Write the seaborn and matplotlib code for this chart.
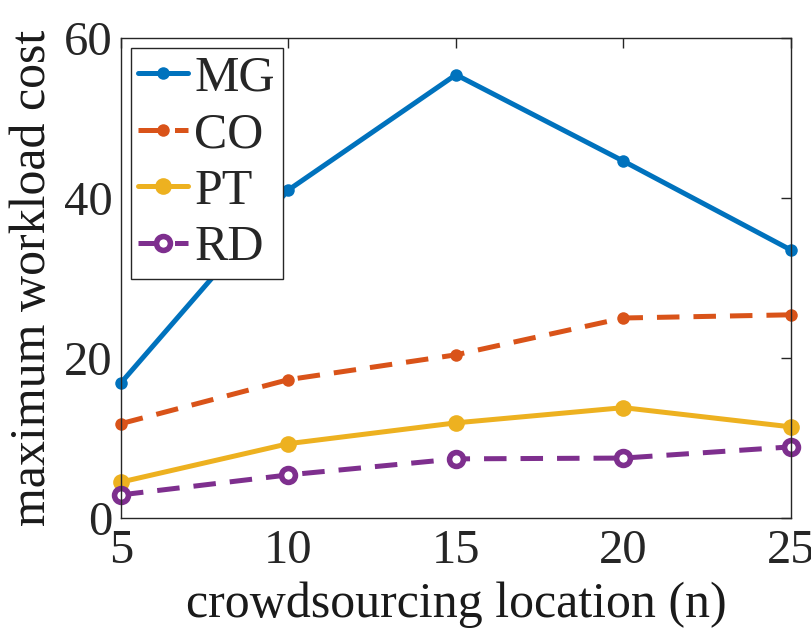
import pandas as pd
import matplotlib
matplotlib.use('Agg')
import matplotlib.pyplot as plt
import seaborn as sns

# values
n_locations = [5, 10, 15, 20, 25]
mg_cost = [16.9, 41.0, 55.4, 44.6, 33.5]
co_cost = [11.8, 17.3, 20.4, 25.0, 25.4]
pt_cost = [4.5, 9.3, 11.9, 13.8, 11.4]
rd_cost = [2.9, 5.4, 7.4, 7.5, 8.9]

x_ticks = [5, 10, 15, 20, 25]
y_ticks = [0, 20, 40, 60]

sns.set_style('white')
plt.rcParams['font.family'] = ['Liberation Serif', 'DejaVu Serif']

fig = plt.figure(figsize=(8.12, 6.42), dpi=100)
ax = fig.add_axes([0.149, 0.193, 0.825, 0.748])

df = pd.DataFrame({'n': n_locations, 'MG': mg_cost, 'CO': co_cost,
                   'PT': pt_cost, 'RD': rd_cost})

lw = 3.6
dash = [4.5, 2.8]
sns.lineplot(x='n', y='MG', data=df, ax=ax, color='#0072BD', linewidth=lw,
             marker='o', markersize=9, markeredgewidth=0, label='MG', clip_on=False)
sns.lineplot(x='n', y='CO', data=df, ax=ax, color='#D95319', linewidth=lw,
             marker='o', markersize=9, markeredgewidth=0, label='CO', clip_on=False)
ax.lines[-1].set_dashes(dash)
sns.lineplot(x='n', y='PT', data=df, ax=ax, color='#EDB120', linewidth=lw,
             marker='o', markersize=12, markeredgewidth=0, label='PT', clip_on=False)
sns.lineplot(x='n', y='RD', data=df, ax=ax, color='#7E2F8E', linewidth=lw,
             marker='o', markersize=10, markerfacecolor='white',
             markeredgecolor='#7E2F8E', markeredgewidth=4, label='RD', clip_on=False)
ax.lines[-1].set_dashes(dash)

ax.set_xlim(5, 25)
ax.set_ylim(0, 60)
ax.set_xticks(x_ticks)
ax.set_yticks(y_ticks)
ax.tick_params(direction='in', length=7, width=1, labelsize=35, colors='#262626',
               top=True, right=True, pad=8)
ax.tick_params(axis='y', pad=6)
for s in ax.spines.values():
    s.set_color('#262626')
    s.set_linewidth(1)

ax.set_xlabel('crowdsourcing location (n)', fontsize=36, color='#1a1a1a', labelpad=6)
ax.set_ylabel('maximum workload cost', fontsize=36, color='#1a1a1a', labelpad=6)

leg = ax.legend(loc='upper left', fontsize=36, frameon=True, fancybox=False,
                framealpha=1, handlelength=1.0, handletextpad=0.12, borderpad=0.15,
                labelspacing=0.2, borderaxespad=0.2)
leg.get_frame().set_edgecolor('#262626')
leg.get_frame().set_linewidth(1)

fig.savefig('out.png', dpi=100)
